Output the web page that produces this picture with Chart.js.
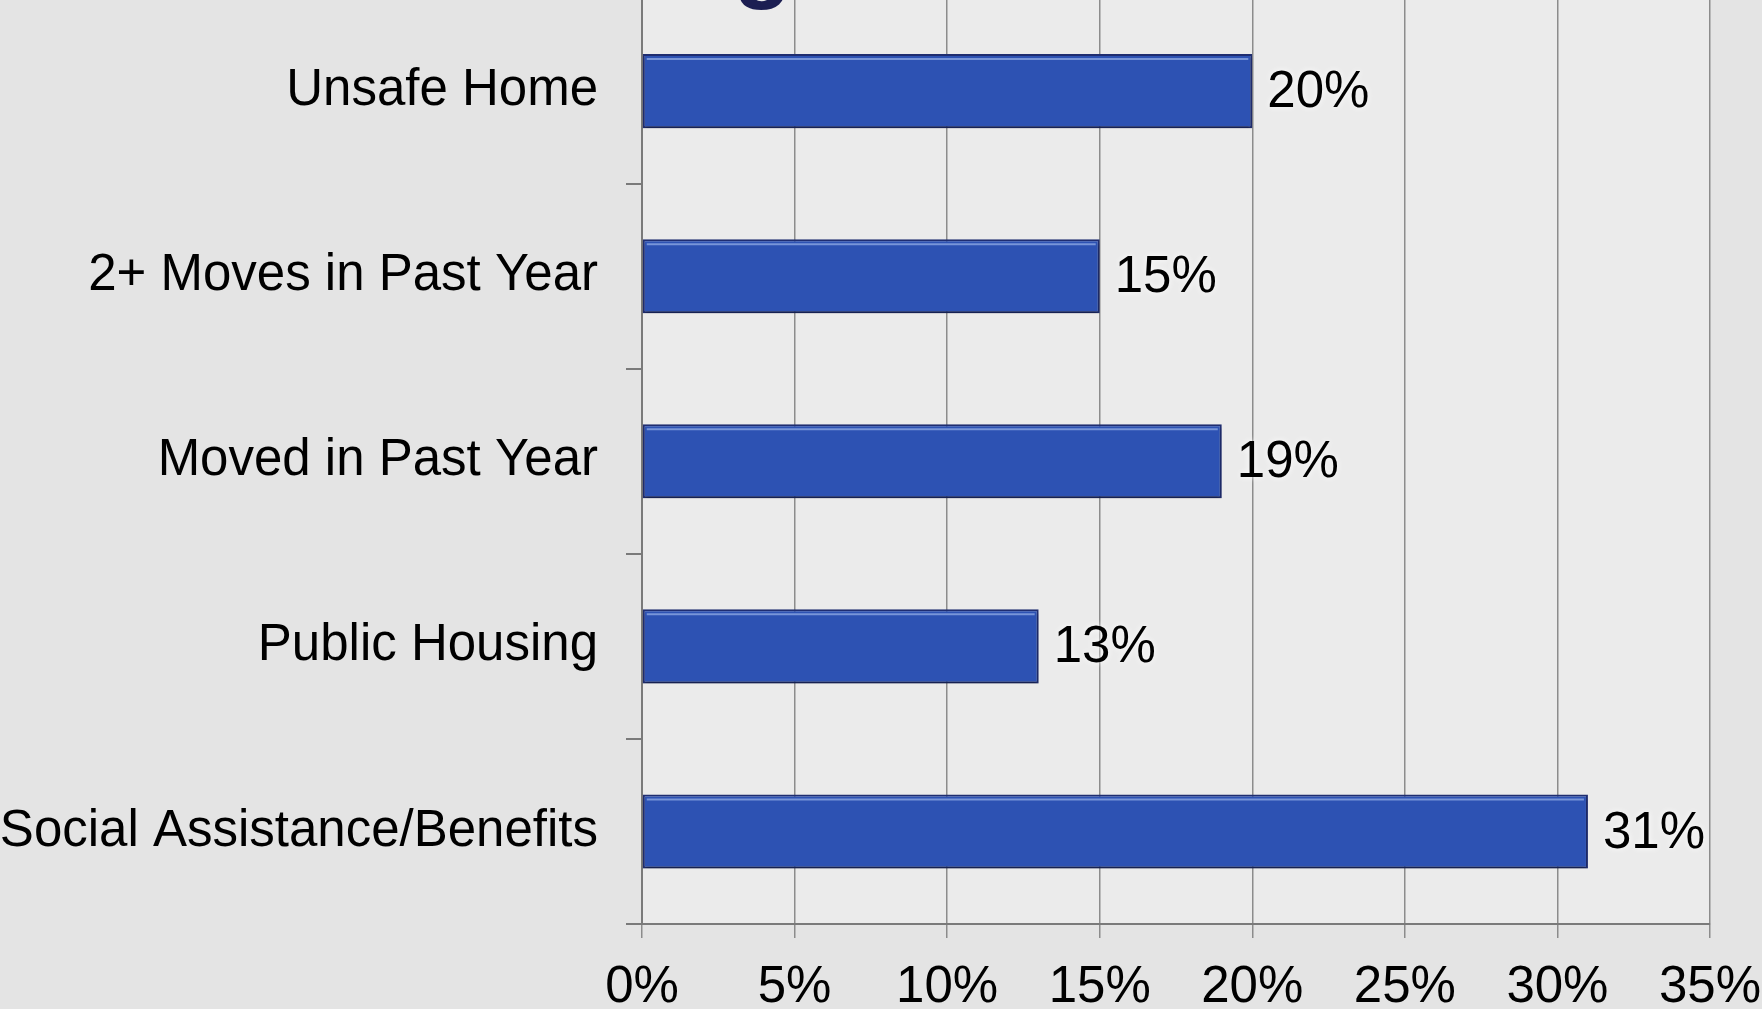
<!DOCTYPE html>
<html lang="en">
<head>
    <meta charset="UTF-8">
    <title>Housing</title>
    <script src="https://cdn.jsdelivr.net/npm/chart.js"></script>
    <style>
        html, body { margin: 0; padding: 0; background: #e4e4e4; overflow: hidden; }
        #wrap { position: absolute; left: 0; top: -60px; width: 1762px; height: 1069px; }
    </style>
</head>
<body>
    <div id="wrap"><canvas id="housingChart"></canvas></div>

    <script>
        const categories = ['Unsafe Home', '2+ Moves in Past Year', 'Moved in Past Year', 'Public Housing', 'Social Assistance/Benefits'];
        const percents = [20, 15, 19, 13, 31];
        const xTicks = [0, 5, 10, 15, 20, 25, 30, 35];
        const titleText = 'Housing';

        const FONT = '"Liberation Sans", Arial, sans-serif';

        // light panel behind the plot + the (mostly clipped) heading
        const backdrop = {
            id: 'backdrop',
            beforeDraw(chart) {
                const { ctx, chartArea: a } = chart;
                ctx.save();
                ctx.fillStyle = '#ebebeb';
                ctx.fillRect(a.left, a.top, a.right - a.left, a.bottom - a.top);
                ctx.fillStyle = '#1c1e52';
                ctx.font = 'bold 96px ' + FONT;
                ctx.textAlign = 'right';
                ctx.textBaseline = 'alphabetic';
                ctx.fillText(titleText, 792, 50);
                ctx.restore();
            }
        };

        // soft drop shadow under bars, highlight along the top edge
        const barShade = {
            id: 'barShade',
            beforeDatasetDraw(chart) {
                const ctx = chart.ctx;
                ctx.save();
                ctx.shadowColor = 'rgba(0,0,0,0.3)';
                ctx.shadowBlur = 3;
                ctx.shadowOffsetY = 4;
            },
            afterDatasetDraw(chart, args) {
                const ctx = chart.ctx;
                ctx.restore();
                ctx.save();
                ctx.strokeStyle = 'rgba(170,195,240,0.6)';
                ctx.lineWidth = 2;
                args.meta.data.forEach(bar => {
                    const top = bar.y - bar.height / 2;
                    ctx.beginPath();
                    ctx.moveTo(bar.base + 4, top + 5);
                    ctx.lineTo(bar.x - 4, top + 5);
                    ctx.stroke();
                });
                ctx.restore();
            }
        };

        // value labels at the end of each bar
        const valueLabels = {
            id: 'valueLabels',
            afterDatasetsDraw(chart) {
                const ctx = chart.ctx;
                const meta = chart.getDatasetMeta(0);
                ctx.save();
                ctx.font = '51px ' + FONT;
                ctx.textAlign = 'left';
                ctx.textBaseline = 'middle';
                ctx.shadowColor = 'rgba(255,255,255,0.95)';
                ctx.shadowBlur = 6;
                ctx.fillStyle = '#000';
                meta.data.forEach((bar, i) => {
                    ctx.fillText(percents[i] + '%', bar.x + 15, bar.y + 2);
                });
                ctx.restore();
            }
        };

        new Chart(document.getElementById('housingChart').getContext('2d'), {
            type: 'bar',
            data: {
                labels: categories,
                datasets: [{
                    data: percents,
                    backgroundColor: '#2d52b3',
                    borderColor: '#1f2d70',
                    borderWidth: 2,
                    borderSkipped: false,
                    categoryPercentage: 1,
                    barPercentage: 0.4
                }]
            },
            options: {
                indexAxis: 'y',
                responsive: true,
                maintainAspectRatio: false,
                animation: false,
                layout: { padding: { top: 56, right: 52, left: 0, bottom: 0 } },
                plugins: {
                    legend: { display: false },
                    tooltip: { enabled: false }
                },
                scales: {
                    x: {
                        min: 0,
                        max: 35,
                        afterBuildTicks(scale) {
                            scale.ticks = xTicks.map(v => ({ value: v }));
                        },
                        ticks: {
                            callback: v => v + '%',
                            color: '#000',
                            padding: 19,
                            font: { family: FONT, size: 51 }
                        },
                        grid: { color: '#8c8c8c', lineWidth: 1.5, tickLength: 14 },
                        border: { color: '#7a7a7a', width: 2 },
                        afterFit(scale) {
                            scale.height = 85;
                            scale.paddingLeft = 0;
                            scale.paddingRight = 0;
                        }
                    },
                    y: {
                        ticks: {
                            color: '#000',
                            padding: 28,
                            font: { family: FONT, size: 51 }
                        },
                        grid: { drawOnChartArea: false, color: '#7a7a7a', lineWidth: 2, tickLength: 16 },
                        border: { color: '#7a7a7a', width: 2 },
                        afterFit(scale) { scale.width = 642; }
                    }
                }
            },
            plugins: [backdrop, barShade, valueLabels]
        });
    </script>
</body>
</html>
